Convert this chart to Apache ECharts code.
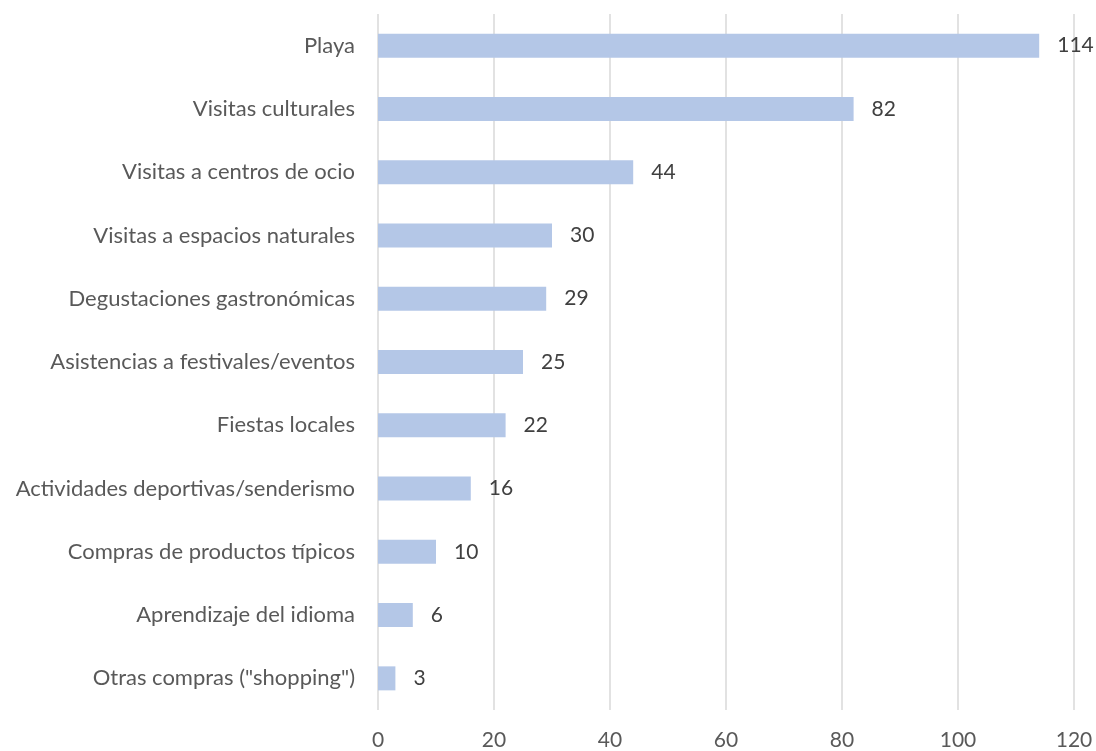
<!DOCTYPE html>
<html>
<head>
<meta charset="utf-8">
<script src="https://cdn.jsdelivr.net/npm/echarts@6/dist/echarts.min.js"></script>
<style>
  html, body { margin: 0; padding: 0; background: #ffffff; }
  #chart { width: 1096px; height: 751px; }
</style>
</head>
<body>
<div id="chart"></div>
<script>
// Activities, listed bottom to top as the category axis draws them
const categories = [
  'Otras compras ("shopping")',
  'Aprendizaje del idioma',
  'Compras de productos típicos',
  'Actividades deportivas/senderismo',
  'Fiestas locales',
  'Asistencias a festivales/eventos',
  'Degustaciones gastronómicas',
  'Visitas a espacios naturales',
  'Visitas a centros de ocio',
  'Visitas culturales',
  'Playa'
];
const values = [3, 6, 10, 16, 22, 25, 29, 30, 44, 82, 114];
const axisMin = 0;
const axisMax = 120;
const axisStep = 20;

const textColor = '#595959';
const valueColor = '#404040';
const fontFamily = 'Lato, "Open Sans", sans-serif';

const chart = echarts.init(document.getElementById('chart'));
chart.setOption({
  animation: false,
  backgroundColor: '#ffffff',
  grid: { left: 378, right: 22, top: 14, bottom: 40, containLabel: false },
  xAxis: {
    type: 'value',
    min: axisMin,
    max: axisMax,
    interval: axisStep,
    axisLine: { show: false },
    axisTick: { show: false },
    axisLabel: { color: textColor, fontSize: 21, fontFamily: fontFamily, margin: 20 },
    splitLine: { show: true, lineStyle: { color: '#D9D9D9', width: 1.5 } }
  },
  yAxis: {
    type: 'category',
    data: categories,
    axisLine: { show: false },
    axisTick: { show: false },
    axisLabel: { color: textColor, fontSize: 22, fontFamily: fontFamily, margin: 23 }
  },
  series: [{
    type: 'bar',
    data: values,
    barWidth: 24,
    itemStyle: { color: '#B4C7E7' },
    label: {
      show: true,
      position: 'right',
      distance: 18,
      color: valueColor,
      fontSize: 21,
      fontFamily: fontFamily
    }
  }]
});
</script>
</body>
</html>
